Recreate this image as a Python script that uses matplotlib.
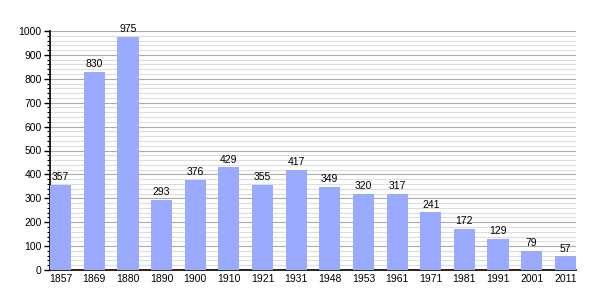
import matplotlib
matplotlib.use("Agg")
import matplotlib.pyplot as plt
from matplotlib.ticker import MultipleLocator

plt.rcParams['font.family'] = ['Liberation Sans', 'DejaVu Sans']

years = ['1857', '1869', '1880', '1890', '1900', '1910', '1921', '1931',
         '1948', '1953', '1961', '1971', '1981', '1991', '2001', '2011']
population = [357, 830, 975, 293, 376, 429, 355, 417,
              349, 320, 317, 241, 172, 129, 79, 57]

fig = plt.figure(figsize=(6.05, 3.0), dpi=100)
ax = fig.add_axes([50 / 605, 30 / 300, 526 / 605, 239 / 300])

x = range(len(years))
bars = ax.bar(x, population, width=0.63, color='#99aaff', zorder=3)

for xi, v in zip(x, population):
    ax.text(xi, v + 12, str(v), ha='center', va='bottom', fontsize=7.5, zorder=4)

ax.set_xlim(-0.315, len(years) - 1 + 0.315)
ax.set_ylim(0, 1000)
ax.set_xticks(list(x))
ax.set_xticklabels(years, fontsize=7.5)
ax.yaxis.set_major_locator(MultipleLocator(100))
ax.yaxis.set_minor_locator(MultipleLocator(20))
ax.tick_params(axis='y', labelsize=7.5, length=4, width=1, pad=2)
ax.tick_params(axis='y', which='minor', length=2, width=0.8)
ax.tick_params(axis='x', length=0, pad=3)

ax.grid(axis='y', which='major', color='#aaaaaa', linewidth=0.8, zorder=0)
ax.grid(axis='y', which='minor', color='#dddddd', linewidth=0.8, zorder=0)

for s in ['top', 'right']:
    ax.spines[s].set_visible(False)
ax.spines['left'].set_linewidth(1.2)
ax.spines['bottom'].set_linewidth(1.2)

fig.savefig('out.png', dpi=100)
